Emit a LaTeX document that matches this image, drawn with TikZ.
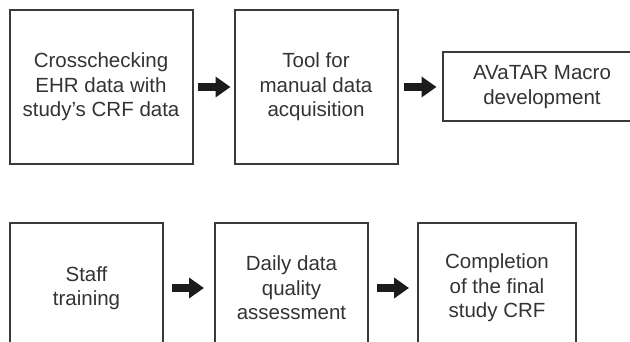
\documentclass[tikz,border=0pt]{standalone}
\usepackage{fontspec}
\setmainfont{Liberation Sans}
\usetikzlibrary{arrows.meta}
\usetikzlibrary{positioning}

\definecolor{boxline}{HTML}{3A3A3A}
\definecolor{boxtext}{HTML}{333333}
\definecolor{arrowfill}{HTML}{1C1C1C}

\begin{document}
\begin{tikzpicture}[x=1pt, y=-1pt, node distance=42pt]
    % Define styles
    \tikzstyle{stage} = [rectangle, draw=boxline, line width=2pt, outer sep=0pt, text=boxtext, align=center, font=\fontsize{20.5}{24.5}\selectfont]
    \tikzstyle{flow} = [-{Triangle[length=15pt, width=20pt]}, line width=8pt, draw=arrowfill]

    \useasboundingbox (0,0) rectangle (630,342);
    \clip (0,0) rectangle (630,342);

    % First row
    \node[stage, minimum width=183pt, minimum height=154pt] (crosscheck) at (101,87) {Crosschecking\\EHR data with\\study’s CRF data};
    \node[stage, minimum width=163pt, minimum height=154pt, right=42pt of crosscheck] (manualtool) {Tool for\\manual data\\acquisition};
    \node[stage, minimum width=199pt, minimum height=69pt, right=45pt of manualtool] (macro) {AVaTAR Macro\\development};

    % Second row
    \node[stage, minimum width=153pt, minimum height=130pt] (training) at (86.5,288) {Staff\\training};
    \node[stage, minimum width=153pt, minimum height=130pt, right=52pt of training] (quality) {Daily data\\quality\\assessment};
    \node[stage, minimum width=158pt, minimum height=130pt, right=50pt of quality] (finalcrf) {Completion\\of the final\\study CRF};

    % Arrows
    \draw[flow, shorten <=5pt, shorten >=4pt] (crosscheck) -- (manualtool);
    \draw[flow, shorten <=6pt, shorten >=6pt] (manualtool) -- (macro);
    \draw[flow, shorten <=9pt, shorten >=11pt] (training) -- (quality);
    \draw[flow, shorten <=9pt, shorten >=9pt] (quality) -- (finalcrf);

\end{tikzpicture}
\end{document}
